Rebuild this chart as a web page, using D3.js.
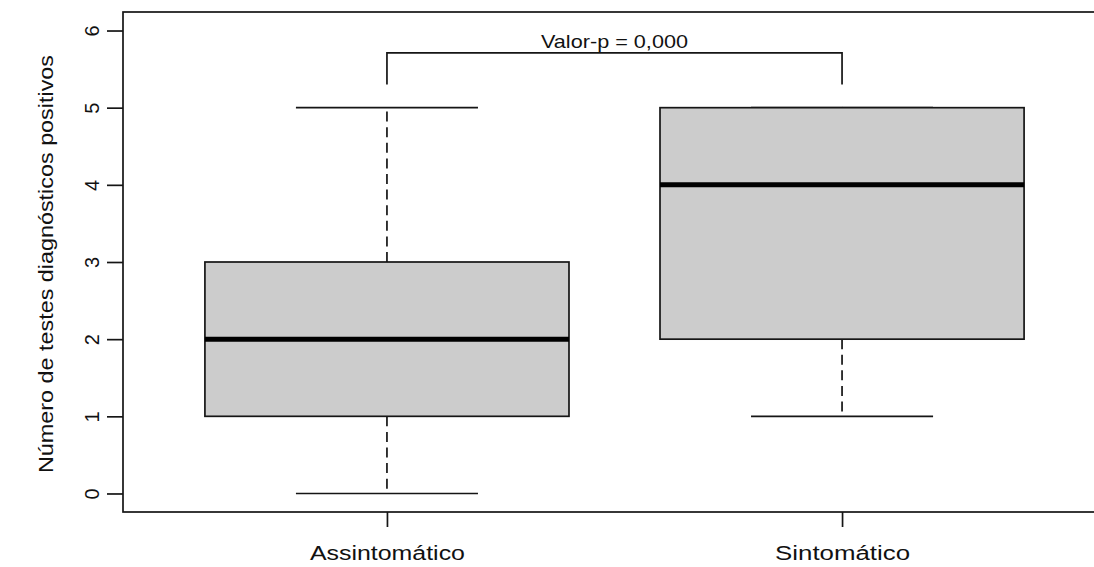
<!DOCTYPE html>
<html>
<head>
<meta charset="utf-8">
<script src="https://cdn.jsdelivr.net/npm/d3@7"></script>
<style>
  html, body { margin: 0; padding: 0; background: #fff; }
  svg { display: block; }
  text { font-family: "Liberation Sans", Arial, sans-serif; fill: #111; }
</style>
</head>
<body>
<svg id="chart" width="1094" height="567"></svg>
<script>
// Group labels and five-number summaries
const categories = ["Assintomático", "Sintomático"];
const whiskerLow  = [0, 1];
const quartile1   = [1, 2];
const medians     = [2, 4];
const quartile3   = [3, 5];
const whiskerHigh = [5, 5];

const yTicks = [0, 1, 2, 3, 4, 5, 6];
const yTitle = "Número de testes diagnósticos positivos";

// Significance bracket between the two groups
const pValueLabel = "Valor-p = 0,000";
const bracketTop = 5.71;
const bracketFoot = 5.3;
const bracketLabelY = 5.86;

const svg = d3.select("#chart");
const ink = "#151515";

const x = d3.scaleLinear().domain([0.42, 2.58]).range([123, 1106]);
const y = d3.scaleLinear().domain([-0.24, 6.24]).range([512, 12]);
const half = 0.4;        // half box width in x units
const capHalf = 0.2;     // half whisker-cap width

const groups = categories.map((c, i) => ({
  name: c, pos: i + 1,
  lo: whiskerLow[i], q1: quartile1[i], med: medians[i], q3: quartile3[i], hi: whiskerHigh[i]
}));

const g = svg.append("g");

// whiskers (dashed)
g.selectAll(".whisk-lo").data(groups).join("line")
  .attr("x1", d => x(d.pos)).attr("x2", d => x(d.pos))
  .attr("y1", d => y(d.q1)).attr("y2", d => y(d.lo))
  .attr("stroke", ink).attr("stroke-width", 1.7).attr("stroke-dasharray", "10,5.6");
g.selectAll(".whisk-hi").data(groups).join("line")
  .attr("x1", d => x(d.pos)).attr("x2", d => x(d.pos))
  .attr("y1", d => y(d.q3)).attr("y2", d => y(d.hi))
  .attr("stroke", ink).attr("stroke-width", 1.7).attr("stroke-dasharray", "10,5.6");

// caps
["lo", "hi"].forEach(k => {
  g.selectAll(".cap-" + k).data(groups).join("line")
    .attr("x1", d => x(d.pos - capHalf)).attr("x2", d => x(d.pos + capHalf))
    .attr("y1", d => y(d[k])).attr("y2", d => y(d[k]))
    .attr("stroke", ink).attr("stroke-width", 1.7);
});

// boxes
g.selectAll(".box").data(groups).join("rect")
  .attr("x", d => x(d.pos - half)).attr("width", d => x(d.pos + half) - x(d.pos - half))
  .attr("y", d => y(d.q3)).attr("height", d => y(d.q1) - y(d.q3))
  .attr("fill", "#cccccc").attr("stroke", ink).attr("stroke-width", 1.7);

// medians
g.selectAll(".med").data(groups).join("line")
  .attr("x1", d => x(d.pos - half)).attr("x2", d => x(d.pos + half))
  .attr("y1", d => y(d.med)).attr("y2", d => y(d.med))
  .attr("stroke", "#000").attr("stroke-width", 5);

// frame
svg.append("rect")
  .attr("x", x(0.42)).attr("y", y(6.24))
  .attr("width", x(2.58) - x(0.42)).attr("height", y(-0.24) - y(6.24))
  .attr("fill", "none").attr("stroke", ink).attr("stroke-width", 1.7);

// y axis
const yAxis = d3.axisLeft(y).tickValues(yTicks).tickSize(16).tickPadding(0).tickFormat(d3.format("d"));
const ya = svg.append("g").attr("transform", `translate(${x(0.42)},0)`).call(yAxis);
ya.select(".domain").remove();
ya.selectAll(".tick line").attr("stroke", ink).attr("stroke-width", 1.7);
ya.selectAll(".tick text")
  .attr("x", null).attr("dy", null)
  .attr("transform", "translate(-31,0) rotate(-90)")
  .attr("text-anchor", "middle").attr("dominant-baseline", "central")
  .style("font-size", "20px");

// x axis
const xAxis = d3.axisBottom(x).tickValues(groups.map(d => d.pos)).tickSize(15).tickPadding(0)
  .tickFormat((d, i) => categories[i]);
const xa = svg.append("g").attr("transform", `translate(0,${y(-0.24)})`).call(xAxis);
xa.select(".domain").remove();
xa.selectAll(".tick line").attr("stroke", ink).attr("stroke-width", 1.7);
xa.selectAll(".tick text")
  .attr("y", 41).attr("dy", null)
  .attr("dominant-baseline", "central")
  .style("font-size", "20px")
  .attr("textLength", (d, i) => i === 0 ? 155 : 135)
  .attr("lengthAdjust", "spacingAndGlyphs");

// y axis title
svg.append("text")
  .attr("transform", `translate(46,${(y(6.24) + y(-0.24)) / 2 + 2}) rotate(-90)`)
  .attr("text-anchor", "middle").attr("dominant-baseline", "central")
  .style("font-size", "20px")
  .attr("textLength", 418).attr("lengthAdjust", "spacingAndGlyphs")
  .text(yTitle);

// significance bracket
const bx1 = x(groups[0].pos), bx2 = x(groups[1].pos);
svg.append("path")
  .attr("d", `M${bx1},${y(bracketFoot)}V${y(bracketTop)}H${bx2}V${y(bracketFoot)}`)
  .attr("fill", "none").attr("stroke", ink).attr("stroke-width", 1.7);
svg.append("text")
  .attr("x", (bx1 + bx2) / 2).attr("y", y(bracketLabelY))
  .attr("text-anchor", "middle").attr("dominant-baseline", "central")
  .style("font-size", "19px")
  .attr("textLength", 147).attr("lengthAdjust", "spacingAndGlyphs")
  .text(pValueLabel);
</script>
</body>
</html>
